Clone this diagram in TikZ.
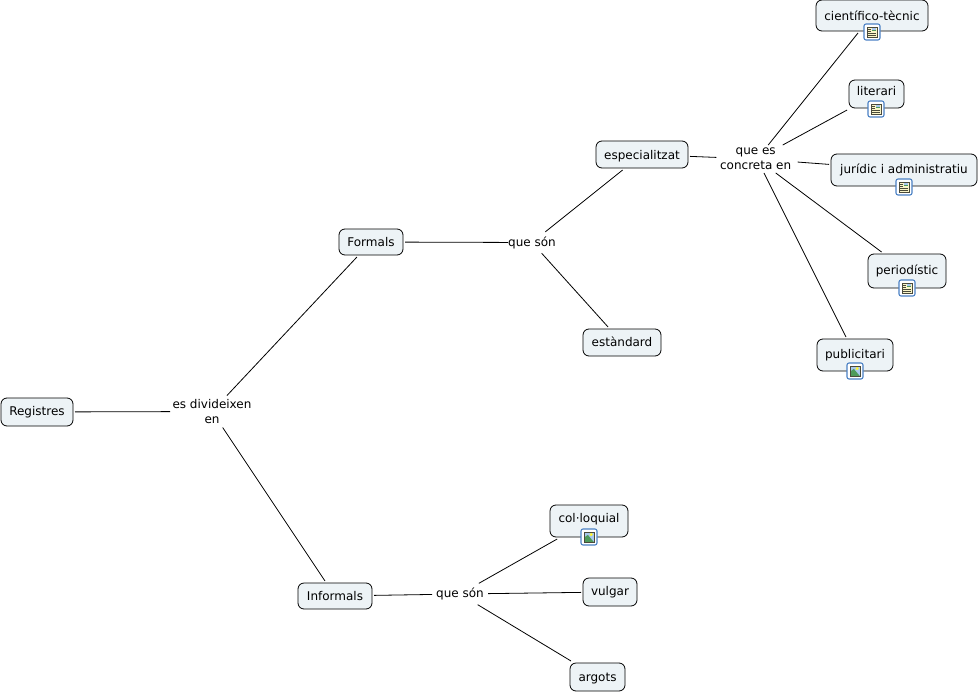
\documentclass[tikz,border=0pt]{standalone}
\usepackage{fontspec}
\setmainfont{DejaVu Sans}
\definecolor{boxfill}{HTML}{EDF3F6}
\definecolor{iconblue}{HTML}{4A80C4}
\definecolor{iconpaper}{HTML}{FAF5C8}
\definecolor{iconsky}{HTML}{A9C8EE}
\definecolor{iconhill}{HTML}{4E9A5A}
\definecolor{iconline}{HTML}{4A4A3A}
\tikzset{
  px/.style={x=0.75pt,y=-0.75pt},
  concept/.style={draw=black,fill=boxfill,rounded corners=4.5pt,line width=0.6pt,inner sep=0pt,
    outer sep=1.5pt,font=\fontsize{9}{11}\selectfont,text height=7pt,text depth=2pt,align=center},
  linker/.style={inner sep=0pt,outer sep=0pt,font=\fontsize{9}{11.2}\selectfont,align=center},
  link/.style={draw=black,line width=0.6pt},
  iconframe/.style={draw=iconblue,fill=white,rounded corners=1.5pt,line width=0.8pt,minimum width=12pt,minimum height=12pt,inner sep=0pt}
}
\newcommand{\boxat}[7]{% name, x0,y0,x1,y1, text, raise
  \node[concept,minimum width={(#4-#2)*0.75pt},minimum height={(#5-#3)*0.75pt}] (#1)
    at ({(#2+#4)/2},{(#3+#5)/2}) {\raisebox{#7}{#6}};}
\newcommand{\docicon}[2]{%
  \node[iconframe] (#1) at (#2) {};
  \fill[iconpaper] ([shift={(-3.7pt,-3.9pt)}]#1.center) rectangle ([shift={(3.7pt,3.9pt)}]#1.center);
  \fill[iconhill] ([shift={(0.3pt,0.4pt)}]#1.center) rectangle ([shift={(3.3pt,3.5pt)}]#1.center);
  \fill[iconsky] ([shift={(0.3pt,1.5pt)}]#1.center) rectangle ([shift={(3.3pt,3.5pt)}]#1.center);
  \draw[iconline,line width=0.35pt] ([shift={(-3.7pt,-3.9pt)}]#1.center) rectangle ([shift={(3.7pt,3.9pt)}]#1.center);
  \foreach \yy in {0.8,2.4}{\draw[iconline,line width=0.3pt] ([shift={(-2.9pt,\yy pt)}]#1.center) -- ([shift={(-0.5pt,\yy pt)}]#1.center);}
  \foreach \yy in {-2.6,-1.2}{\draw[iconline,line width=0.3pt] ([shift={(-2.9pt,\yy pt)}]#1.center) -- ([shift={(2.9pt,\yy pt)}]#1.center);}
}
\newcommand{\picicon}[2]{%
  \node[iconframe] (#1) at (#2) {};
  \fill[iconsky] ([shift={(-3.7pt,-3.9pt)}]#1.center) rectangle ([shift={(3.7pt,3.9pt)}]#1.center);
  \fill[iconhill] ([shift={(-3.7pt,-3.9pt)}]#1.center) -- ([shift={(-3.7pt,-0.5pt)}]#1.center) -- ([shift={(-0.9pt,1.6pt)}]#1.center) -- ([shift={(3.7pt,-3.9pt)}]#1.center) -- cycle;
  \fill[yellow!80!white] ([shift={(1.6pt,1.8pt)}]#1.center) circle (1.3pt);
  \draw[iconline,line width=0.35pt] ([shift={(-3.7pt,-3.9pt)}]#1.center) rectangle ([shift={(3.7pt,3.9pt)}]#1.center);
}
\begin{document}
\begin{tikzpicture}[px]
\useasboundingbox (0,0) rectangle (978,692);
\boxat{registres}{1}{398}{73}{426}{Registres}{-0.3pt}
\boxat{formals}{339}{229}{403}{255}{Formals}{-0.7pt}
\boxat{informals}{298}{583}{372}{609}{Informals}{-0.7pt}
\boxat{especial}{596}{141}{688}{168}{especialitzat}{-1pt}
\boxat{estandard}{583}{329}{661}{356}{estàndard}{-0.7pt}
\boxat{cientific}{816}{0}{928}{31}{científico-tècnic}{-1.3pt}
\boxat{literari}{849}{80}{904}{108}{literari}{1.2pt}
\boxat{juridic}{831}{154}{977}{186}{jurídic i administratiu}{0.2pt}
\boxat{periodistic}{868}{254}{946}{288}{periodístic}{0.2pt}
\boxat{publicitari}{817}{339}{893}{371}{publicitari}{0.2pt}
\boxat{coloquial}{550}{505}{628}{537}{col·loquial}{1.7pt}
\boxat{vulgar}{583}{578}{637}{606}{vulgar}{0pt}
\boxat{argots}{570}{663}{625}{691}{argots}{-0.7pt}
\node[linker,minimum width=63pt,minimum height=24pt] (esdiv) at (212,411.5) {es divideixen\\en};
\node[linker,minimum width=36pt,minimum height=16pt] (queson1) at (532,242.5) {que són};
\node[linker,minimum width=42pt,minimum height=16pt] (queson2) at (460,594) {que són};
\node[linker,minimum width=61pt,minimum height=21pt] (queesc) at (757,159) {\hspace*{-2pt}que es\\\hspace*{-2pt}concreta en};
\draw[link] (registres) -- (esdiv);
\draw[link] (esdiv) -- (formals);
\draw[link] (esdiv) -- (informals);
\draw[link] (formals) -- (queson1);
\draw[link] (queson1) -- (especial);
\draw[link] (queson1) -- (estandard);
\draw[link] (especial) -- (queesc);
\draw[link] (queesc) -- (cientific);
\draw[link] (queesc) -- (literari);
\draw[link] (queesc) -- (juridic);
\draw[link] (queesc) -- (periodistic);
\draw[link] (queesc) -- (publicitari);
\draw[link] (informals) -- (queson2);
\draw[link] (queson2) -- (coloquial);
\draw[link] (queson2) -- (vulgar);
\draw[link] (queson2) -- (argots);
\docicon{ic1}{872,32}
\docicon{ic2}{876,109}
\docicon{ic3}{904,187}
\docicon{ic4}{907,288}
\picicon{ic5}{855,371}
\picicon{ic6}{589,537}
\end{tikzpicture}
\end{document}
